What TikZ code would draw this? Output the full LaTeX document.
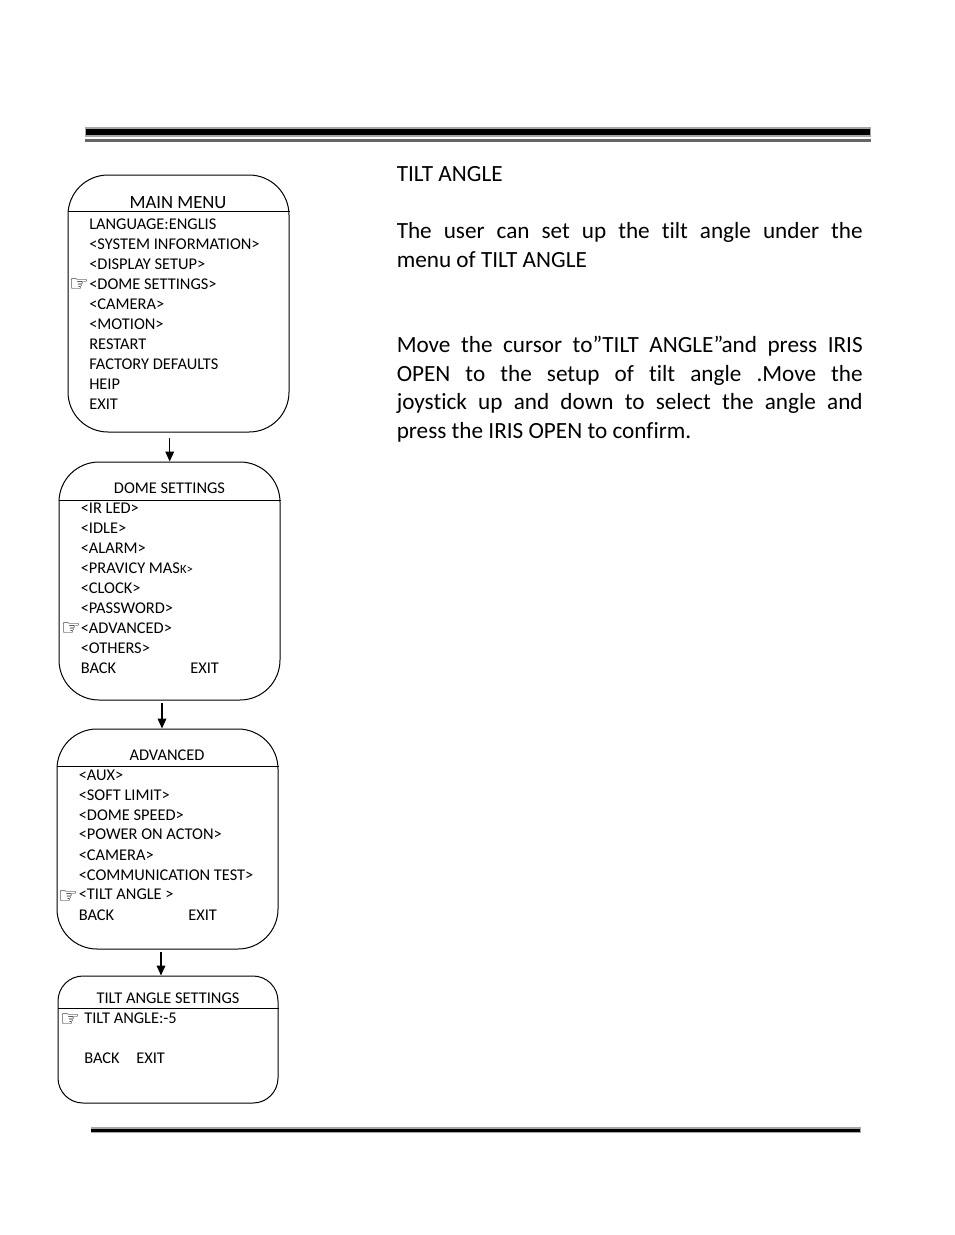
\documentclass[tikz,border=0pt]{standalone}
\usepackage{fontspec}
\setmainfont[RawFeature={-liga;-clig;-dlig}]{Carlito}
\newfontfamily\handfont{DejaVu Sans}
\usetikzlibrary{arrows.meta}
\tikzset{
  menubox/.style={draw=black,line width=0.75pt,inner sep=0pt,fill=none},
  headrule/.style={draw=black,line width=0.75pt},
  flow/.style={draw=black,line width=1.1pt,-{Triangle[length=7.5pt,width=6.5pt]}},
  item/.style={anchor=base west,inner sep=0pt,font=\fontsize{12.3}{14}\selectfont},
  title/.style={anchor=base,inner sep=0pt,font=\fontsize{12.3}{14}\selectfont},
  hand/.style={anchor=base,inner sep=0pt,font=\handfont\fontsize{16.5}{16.5}\selectfont},
  body/.style={anchor=north west,inner sep=0pt,text width=349.5pt,align=justify,font=\fontsize{17.4}{21.5}\selectfont}
}
\newcommand{\roundbox}[6]{% name x1 y1 x2 y2 radius
  \node[menubox,rounded corners=#6*0.75pt,minimum width=(#4-#2)*0.75pt,minimum height=(#5-#3)*0.75pt] (#1) at ({(#2+#4)/2},{(#3+#5)/2}) {};
}
\begin{document}
\begin{tikzpicture}[x=0.75pt,y=-0.75pt]
\useasboundingbox (0,0) rectangle (954,1235);
% page rules
\fill[black!35] (85,127) rectangle (871,136.5);
\fill[black] (86,128.5) rectangle (870,135);
\fill[black!60] (85,139) rectangle (871,141.5);
\fill[black!35] (91,1127) rectangle (860.5,1133);
\fill[black] (91,1128.5) rectangle (860,1131.5);
% boxes
\roundbox{bA}{68}{175}{289}{432}{40}
\roundbox{bB}{59}{462}{280}{700}{40}
\roundbox{bC}{57}{729}{278}{949}{40}
\roundbox{bD}{58}{976}{278}{1103}{25}
% header rules
\coordinate (hA) at (0,211); \draw[headrule] (bA.west |- hA) -- (bA.east |- hA);
\coordinate (hB) at (0,500); \draw[headrule] (bB.west |- hB) -- (bB.east |- hB);
\coordinate (hC) at (0,766.5); \draw[headrule] (bC.west |- hC) -- (bC.east |- hC);
\coordinate (hD) at (0,1008); \draw[headrule] (bD.west |- hD) -- (bD.east |- hD);
% arrows
\coordinate (fA) at (169.7,438); \draw[flow] (fA) -- (fA |- bB.north);
\coordinate (fB) at (162,703); \draw[flow] (fB) -- (fB |- bC.north);
\coordinate (fC) at (161,952); \draw[flow] (fC) -- (fC |- bD.north);
% main menu
\node[title,font=\fontsize{14}{15}\selectfont] (tA) at (178,208) {MAIN MENU};
\node[item] (a1) at (89,229) {LANGUAGE:ENGLIS};
\node[item] (a2) at (89,249) {<SYSTEM INFORMATION>};
\node[item] (a3) at (89,269) {<DISPLAY SETUP>};
\node[item] (a4) at (89,289) {<DOME SETTINGS>};
\node[item] (a5) at (89,309) {<CAMERA>};
\node[item] (a6) at (89,329) {<MOTION>};
\node[item] (a7) at (89,349) {RESTART};
\node[item] (a8) at (89,369) {FACTORY DEFAULTS};
\node[item] (a9) at (89,389) {HEIP};
\node[item] (a10) at (89,409) {EXIT};
\node[hand] (ha) at (79,291) {☞};
% dome settings
\node[title] (tB) at (169.5,493) {DOME SETTINGS};
\node[item] (b1) at (80.5,513) {<IR LED>};
\node[item] (b2) at (80.5,533) {<IDLE>};
\node[item] (b3) at (80.5,553) {<ALARM>};
\node[item] (b4) at (80.5,573) {<PRAVICY MAS{\fontsize{9.5}{10}\selectfont K>}};
\node[item] (b5) at (80.5,593) {<CLOCK>};
\node[item] (b6) at (80.5,613) {<PASSWORD>};
\node[item] (b7) at (80.5,633) {<ADVANCED>};
\node[item] (b8) at (80.5,653) {<OTHERS>};
\node[item] (b9) at (80.5,673) {BACK};
\node[item] (b10) at (190,673) {EXIT};
\node[hand] (hb) at (71,635) {☞};
% advanced
\node[title] (tC) at (167,760) {ADVANCED};
\node[item] (c1) at (78.5,780) {<AUX>};
\node[item] (c2) at (78.5,800) {<SOFT LIMIT>};
\node[item] (c3) at (78.5,820) {<DOME SPEED>};
\node[item] (c4) at (78.5,839) {<POWER ON ACTON>};
\node[item] (c5) at (78.5,860) {<CAMERA>};
\node[item] (c6) at (78.5,880) {<COMMUNICATION TEST>};
\node[item] (c7) at (78.5,899) {<TILT ANGLE >};
\node[item] (c8) at (78.5,920) {BACK};
\node[item] (c9) at (188,920) {EXIT};
\node[hand] (hc) at (68,903) {☞};
% tilt angle settings
\node[title] (tD) at (168,1003) {TILT ANGLE SETTINGS};
\node[item] (d1) at (84,1023) {TILT ANGLE:-5};
\node[item] (d2) at (84,1063) {BACK};
\node[item] (d3) at (136,1063) {EXIT};
\node[hand] (hd) at (70,1026) {☞};
% right column
\node[anchor=base west,inner sep=0pt,font=\fontsize{17.4}{21.5}\selectfont] (r0) at (396.5,181) {TILT ANGLE};
\node[body] (r1) at (396.5,222) {The user can set up the tilt angle under the\linebreak menu of TILT ANGLE};
\node[body] (r2) at (396.5,336) {Move the cursor to”TILT ANGLE”and press IRIS\linebreak OPEN to the setup of tilt angle .Move the\linebreak joystick up and down to select the angle and\linebreak press the IRIS OPEN to confirm.};
\end{tikzpicture}
\end{document}
